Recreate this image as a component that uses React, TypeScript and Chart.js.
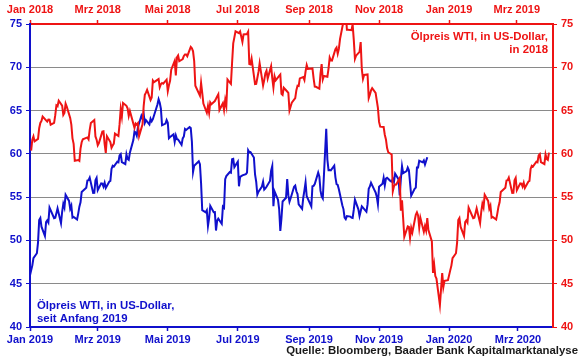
import React, { useEffect, useRef } from "react";
import { Chart, registerables } from "chart.js";

Chart.register(...registerables);

const RED = "#ee1414";
const BLUE = "#1010cc";
const GRID = "#8a8a8a";
const FONT = "'Liberation Sans', Arial, Helvetica, sans-serif";

// Axis labels
const topTickLabels = ["Jan 2018", "Mrz 2018", "Mai 2018", "Jul 2018", "Sep 2018", "Nov 2018", "Jan 2019", "Mrz 2019"];
const bottomTickLabels = ["Jan 2019", "Mrz 2019", "Mai 2019", "Jul 2019", "Sep 2019", "Nov 2019", "Jan 2020", "Mrz 2020"];
const tickMonthOffsets = [0, 2, 4, 6, 8, 10, 12, 14];
const yMin = 40;
const yMax = 75;
const yStep = 5;
const xSpanDays = 455.5;

const redLabel = ["Ölpreis WTI, in US-Dollar,", "in 2018"];
const blueLabel = ["Ölpreis WTI, in US-Dollar,", "seit Anfang 2019"];
const sourceText = "Quelle: Bloomberg, Baader Bank Kapitalmarktanalyse";

// US exchange holidays (no settlement)
const holidays = [
  "2018-01-01", "2018-01-15", "2018-02-19", "2018-03-30", "2018-05-28", "2018-07-04", "2018-09-03", "2018-11-22", "2018-12-25",
  "2019-01-01", "2019-01-21", "2019-02-18", "2019-04-19", "2019-05-27", "2019-07-04", "2019-09-02", "2019-11-28", "2019-12-25",
];

// WTI daily closes 2018 (business days per month)
const wti2018 = [
  [60.37, 61.63, 62.01, 61.44, 61.73, 62.96, 63.57, 63.8, 64.3, 63.73, 63.97, 63.95, 63.37, 63.57, 64.47, 65.61, 65.51, 66.14, 65.56, 64.5, 64.73],
  [65.8, 65.45, 64.15, 63.39, 61.79, 61.15, 59.2, 59.29, 59.19, 60.6, 61.34, 61.68, 61.9, 61.68, 62.77, 63.55, 63.91, 62.01, 61.64],
  [60.99, 61.25, 62.57, 62.6, 61.15, 60.12, 62.04, 61.36, 60.71, 60.96, 61.19, 62.34, 62.06, 63.4, 65.17, 64.3, 65.88, 65.55, 65.25, 64.38, 64.94],
  [63.01, 63.51, 63.37, 63.54, 62.06, 63.42, 65.51, 66.82, 67.07, 67.39, 66.22, 66.52, 68.47, 68.29, 68.38, 68.64, 67.7, 68.05, 68.19, 68.1, 68.57],
  [67.25, 67.93, 68.43, 69.72, 70.73, 69.06, 71.14, 71.36, 70.7, 70.96, 71.31, 71.49, 71.49, 71.28, 72.35, 72.2, 71.84, 70.71, 67.88, 66.73, 68.21, 67.04],
  [65.81, 64.75, 65.52, 64.73, 65.95, 65.74, 66.1, 66.36, 66.64, 66.89, 65.06, 65.85, 65.07, 66.22, 65.54, 68.58, 68.08, 70.53, 72.76, 73.45, 74.15],
  [73.94, 74.14, 72.94, 73.8, 73.85, 74.11, 70.38, 70.33, 71.01, 68.06, 68.08, 68.76, 69.46, 70.46, 67.89, 68.52, 69.3, 69.61, 68.69, 70.13, 68.76],
  [67.66, 68.96, 68.49, 69.01, 69.17, 66.94, 66.81, 67.63, 67.2, 67.04, 65.01, 65.46, 65.91, 66.43, 67.35, 67.86, 67.83, 68.72, 68.87, 68.53, 69.51, 70.25, 69.8],
  [69.87, 68.72, 67.77, 67.75, 67.54, 69.25, 70.37, 68.59, 68.99, 68.91, 69.85, 71.12, 70.8, 70.78, 72.08, 72.28, 71.57, 72.12, 73.25],
  [75.3, 75.23, 76.41, 74.33, 74.34, 74.29, 74.96, 73.17, 70.97, 71.34, 71.78, 72.92, 69.75, 68.65, 69.12, 69.17, 66.43, 66.82, 67.33, 67.59, 67.04, 66.18, 65.31],
  [63.69, 63.14, 63.1, 62.21, 61.67, 60.67, 60.19, 59.93, 55.69, 56.25, 56.46, 56.46, 57.2, 53.43, 54.63, 50.42, 51.63, 51.56, 50.29, 51.45, 50.93],
  [52.95, 53.25, 52.89, 51.49, 52.61, 51.0, 51.65, 51.15, 52.58, 51.2, 49.88, 46.24, 47.2, 45.88, 45.59, 42.53, 46.22, 44.61, 45.33, 45.41],
];

// WTI daily closes 2019 (business days per month, to mid-December)
const wti2019 = [
  [46.54, 47.09, 47.96, 48.52, 49.78, 52.36, 52.59, 51.59, 50.51, 52.11, 52.31, 52.07, 53.8, 52.57, 52.62, 53.13, 53.69, 51.99, 53.31, 54.23, 53.79],
  [55.26, 54.56, 53.66, 54.01, 52.64, 52.72, 52.41, 53.1, 53.9, 54.41, 55.59, 56.09, 56.92, 56.96, 57.26, 55.48, 55.5, 56.94, 57.22],
  [55.8, 56.59, 56.56, 56.22, 56.66, 56.07, 56.79, 56.87, 58.26, 58.61, 58.52, 59.09, 59.03, 59.83, 59.98, 59.04, 58.82, 59.94, 59.41, 59.3, 60.14],
  [61.59, 62.58, 62.46, 62.1, 63.08, 64.4, 64.05, 64.61, 63.58, 63.89, 63.4, 64.05, 63.76, 64.0, 65.7, 66.3, 65.89, 65.21, 63.3, 63.5, 63.91],
  [63.6, 61.81, 61.94, 62.25, 61.4, 62.12, 61.7, 61.66, 61.04, 61.78, 62.02, 62.87, 62.76, 63.1, 62.99, 61.42, 57.91, 58.63, 59.14, 58.81, 56.59, 53.5],
  [53.25, 53.48, 51.68, 52.59, 53.99, 53.26, 53.27, 51.14, 52.28, 52.51, 51.93, 53.9, 53.76, 57.07, 57.43, 57.9, 57.83, 59.38, 59.43, 58.47],
  [59.09, 56.25, 57.34, 57.51, 57.66, 57.83, 60.43, 60.2, 60.21, 59.58, 57.62, 56.78, 55.3, 55.63, 56.22, 56.77, 55.88, 56.02, 56.2, 56.87, 58.05, 58.58],
  [53.95, 55.66, 54.69, 53.63, 51.09, 52.54, 54.5, 54.93, 57.1, 55.23, 54.47, 54.87, 56.21, 56.34, 55.68, 55.35, 54.17, 53.64, 54.93, 55.78, 56.71, 55.1],
  [53.94, 56.26, 56.3, 56.52, 57.85, 57.4, 55.75, 55.09, 54.85, 62.9, 59.34, 58.11, 58.13, 58.09, 58.64, 57.29, 56.49, 56.41, 55.91, 54.07],
  [53.62, 52.64, 52.45, 52.81, 52.75, 52.63, 52.59, 53.55, 54.7, 53.59, 52.81, 53.36, 53.93, 53.78, 53.31, 54.16, 55.97, 56.23, 56.66, 55.81, 55.54, 55.06, 54.18],
  [56.2, 56.54, 57.23, 56.35, 57.15, 57.24, 56.86, 56.8, 57.12, 56.77, 57.72, 57.05, 55.21, 57.11, 58.58, 57.77, 58.01, 58.41, 58.11, 55.17],
  [55.96, 56.1, 58.43, 58.43, 59.2, 59.02, 59.24, 58.76, 59.18, 59.6],
];

const DAY = 86400000;

function parseDate(s: string): number {
  const [y, m, d] = s.split("-").map(Number);
  return Date.UTC(y, m - 1, d);
}

const holidaySet = new Set(holidays.map(parseDate));

function businessDates(start: string, n: number): number[] {
  const out: number[] = [];
  let t = parseDate(start);
  while (out.length < n) {
    const wd = new Date(t).getUTCDay();
    if (wd !== 0 && wd !== 6 && !holidaySet.has(t)) out.push(t);
    t += DAY;
  }
  return out;
}

function toPoints(start: string, values: number[], baseYear: number) {
  const base = Date.UTC(baseYear, 0, 1);
  const dates = businessDates(start, values.length);
  return values.map((v, i) => ({ x: (dates[i] - base) / DAY, y: v }));
}

function monthTicks(baseYear: number): number[] {
  const base = Date.UTC(baseYear, 0, 1);
  return tickMonthOffsets.map((m) => (Date.UTC(baseYear, m, 1) - base) / DAY);
}

const redValues = [...wti2018.flat(), ...wti2019.slice(0, 3).flat()];
const blueValues = [wti2018[11][wti2018[11].length - 1], ...wti2019.flat()];

export default function App() {
  const ref = useRef<HTMLCanvasElement | null>(null);

  useEffect(() => {
    if (!ref.current) return;
    const redPts = toPoints("2018-01-02", redValues, 2018);
    const bluePts = toPoints("2018-12-31", blueValues, 2019);

    const textPlugin = {
      id: "annotations",
      afterDraw(chart: any) {
        const ctx = chart.ctx as CanvasRenderingContext2D;
        const a = chart.chartArea;
        ctx.save();
        ctx.font = `bold 11.4px ${FONT}`;
        ctx.textBaseline = "middle";
        ctx.fillStyle = RED;
        ctx.textAlign = "right";
        ctx.fillText(redLabel[0], a.right - 5, a.top + 13);
        ctx.fillText(redLabel[1], a.right - 5, a.top + 26);
        ctx.fillStyle = BLUE;
        ctx.textAlign = "left";
        ctx.fillText(blueLabel[0], a.left + 7, a.bottom - 21);
        ctx.fillText(blueLabel[1], a.left + 7, a.bottom - 8);
        ctx.fillStyle = "#1a1a1a";
        ctx.textAlign = "right";
        ctx.font = `bold 11.4px ${FONT}`;
        ctx.fillText(sourceText, chart.width - 2, chart.height - 8);
        ctx.restore();
      },
    };

    const chart = new Chart(ref.current, {
      type: "line",
      data: {
        datasets: [
          {
            label: "WTI 2018",
            data: redPts,
            xAxisID: "xTop",
            yAxisID: "y2",
            borderColor: RED,
            borderWidth: 2,
            pointRadius: 0,
            tension: 0,
            fill: false,
          },
          {
            label: "WTI 2019",
            data: bluePts,
            xAxisID: "x",
            yAxisID: "y",
            borderColor: BLUE,
            borderWidth: 2,
            pointRadius: 0,
            tension: 0,
            fill: false,
          },
        ],
      },
      options: {
        responsive: false,
        animation: false,
        parsing: false,
        layout: { padding: 0 },
        plugins: { legend: { display: false }, tooltip: { enabled: false } },
        scales: {
          x: {
            type: "linear",
            position: "bottom",
            min: 0,
            max: xSpanDays,
            afterFit: (s: any) => { s.height = 32; },
            afterBuildTicks: (s: any) => { s.ticks = monthTicks(2019).map((v) => ({ value: v })); },
            ticks: {
              autoSkip: false,
              maxRotation: 0,
              color: BLUE,
              padding: 2,
              font: { family: FONT, size: 11, weight: "bold" },
              callback: (_v: any, i: number) => bottomTickLabels[i],
            },
            grid: { drawOnChartArea: false, tickLength: 4, tickColor: BLUE, tickWidth: 1.5 },
            border: { color: BLUE, width: 2 },
          },
          xTop: {
            type: "linear",
            position: "top",
            min: 0,
            max: xSpanDays,
            afterFit: (s: any) => { s.height = 24; },
            afterBuildTicks: (s: any) => { s.ticks = monthTicks(2018).map((v) => ({ value: v })); },
            ticks: {
              autoSkip: false,
              maxRotation: 0,
              color: RED,
              padding: 3,
              font: { family: FONT, size: 11, weight: "bold" },
              callback: (_v: any, i: number) => topTickLabels[i],
            },
            grid: { drawOnChartArea: false, tickLength: 4, tickColor: RED, tickWidth: 1.5 },
            border: { color: RED, width: 2 },
          },
          y: {
            type: "linear",
            position: "left",
            min: yMin,
            max: yMax,
            afterFit: (s: any) => { s.width = 30; },
            ticks: {
              stepSize: yStep,
              color: BLUE,
              padding: 4,
              font: { family: FONT, size: 11, weight: "bold" },
            },
            grid: {
              color: (c: any) => (c.tick && (c.tick.value === yMin || c.tick.value === yMax) ? "rgba(0,0,0,0)" : GRID),
              lineWidth: 1,
              tickLength: 4,
              tickColor: BLUE,
            },
            border: { color: BLUE, width: 2 },
          },
          y2: {
            type: "linear",
            position: "right",
            min: yMin,
            max: yMax,
            afterFit: (s: any) => { s.width = 27; },
            ticks: {
              stepSize: yStep,
              color: RED,
              padding: 4,
              font: { family: FONT, size: 11, weight: "bold" },
            },
            grid: { drawOnChartArea: false, tickLength: 4, tickColor: RED },
            border: { color: RED, width: 2 },
          },
        },
      },
      plugins: [textPlugin],
    } as any);

    return () => chart.destroy();
  }, []);

  return (
    <div style={{ position: "fixed", left: 0, top: 0, width: 580, height: 359, background: "#fff" }}>
      <canvas ref={ref} width={580} height={359} style={{ display: "block", width: 580, height: 359 }} />
    </div>
  );
}
